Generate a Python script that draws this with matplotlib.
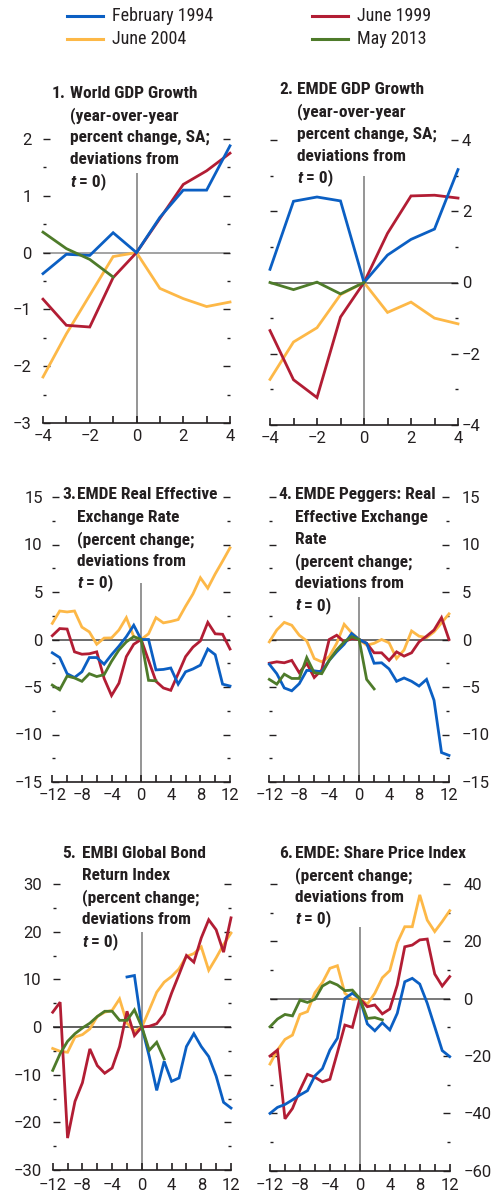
import matplotlib
matplotlib.use("Agg")
import matplotlib.pyplot as plt
from matplotlib import font_manager as fm
from matplotlib.lines import Line2D
import numpy as np

# ---------------- data ----------------
quarters = [-4, -3, -2, -1, 0, 1, 2, 3, 4]
months = list(range(-12, 13))

series_names = ["February 1994", "June 1999", "June 2004", "May 2013"]

p1_feb94 = [-0.37, -0.03, -0.05, 0.35, 0, 0.62, 1.1, 1.1, 1.88]
p1_jun99 = [-0.82, -1.28, -1.31, -0.44, 0, 0.6, 1.2, 1.44, 1.75]
p1_jun04 = [-2.19, -1.43, -0.75, -0.07, 0, -0.63, -0.81, -0.95, -0.87]
p1_may13 = [0.36, 0.07, -0.12, -0.43]

p2_feb94 = [0.37, 2.28, 2.4, 2.29, 0, 0.77, 1.21, 1.5, 3.17]
p2_jun99 = [-1.35, -2.73, -3.23, -0.97, 0, 1.38, 2.43, 2.45, 2.37]
p2_jun04 = [-2.72, -1.67, -1.27, -0.34, 0, -0.84, -0.55, -1.0, -1.16]
p2_may13 = [0, -0.2, 0.01, -0.32, 0]

p3_feb94 = [-1.4, -1.9, -3.6, -4.0, -3.4, -1.9, -1.9, -2.6, -1.6, -0.7, 0.3, 1.5, 0,
            0.0, -3.2, -3.15, -3.0, -4.7, -3.4, -3.1, -2.7, -1.0, -1.6, -4.7, -4.9]
p3_jun99 = [0.4, 1.15, 1.1, -1.3, -1.55, -1.5, -1.3, -4.1, -5.9, -4.6, -1.8, -0.5, 0,
            -2.2, -4.4, -5.1, -5.35, -3.6, -1.8, -0.8, -0.15, 1.8, 0.6, 0.55, -1.0]
p3_jun04 = [1.7, 3.0, 2.9, 3.0, 1.3, 0.8, -0.5, 0.15, 0.17, 1.0, 2.3, 0.3, 0,
            0.6, 2.3, 1.75, 1.9, 2.1, 3.5, 4.8, 6.5, 5.4, 6.9, 8.25, 9.65]
p3_may13 = [-4.8, -5.3, -3.85, -4.05, -4.4, -3.6, -3.9, -3.7, -2.3, -1.1, -0.25, 0.3, 0,
            -4.3, -4.35]

p4_feb94 = [-2.6, -3.6, -5.1, -5.4, -4.65, -3.25, -3.3, -3.4, -2.2, -1.3, -0.5, 0.63, 0,
            -0.4, -2.5, -2.45, -3.1, -4.4, -4.05, -4.4, -4.9, -4.2, -6.4, -11.9, -12.2]
p4_jun99 = [-2.5, -2.35, -2.45, -2.2, -3.5, -2.5, -4.0, -3.2, 0, 0.45, -0.25, 0.1, 0,
            -0.4, -1.4, -1.4, -2.2, -1.3, -1.75, -1.4, -0.25, 0.35, 1.0, 2.3, 0]
p4_jun04 = [-0.25, 1.0, 1.8, 1.5, 0.45, -0.15, -2.0, -2.35, -1.8, -0.4, 1.6, 0.7, 0,
            -0.6, -0.4, 0, -0.35, -2.0, -1.1, 0.9, 0.35, 0.2, 0.8, 1.75, 2.7]
p4_may13 = [-4.2, -4.7, -3.65, -4.1, -4.1, -1.9, -3.5, -3.6, -2.2, -1.1, -0.25, 0.3, 0,
            -4.2, -5.2]

p5_feb94 = [10.5, 10.8, 0, -6.2, -13.3, -7.2, -11.4, -10.7, -4.1, -1.4, -4.1, -6.2,
            -10.3, -15.8, -17.0]          # starts at month -2
p5_jun99 = [3.1, 5.2, -23.3, -15.6, -11.7, -4.6, -8.1, -9.7, -8.6, -4.1, 3.3, -1.8, 0,
            0.15, 0.7, 2.7, 7.1, 11.0, 15.0, 13.6, 18.7, 22.5, 20.4, 15.7, 22.9]
p5_jun04 = [-4.5, -5.1, -5.3, -2.1, -1.6, -0.4, 2.2, 3.1, 3.5, 5.9, 0.8, -0.9, 0,
            3.6, 7.3, 9.4, 10.6, 12.2, 14.8, 15.4, 16.8, 11.9, 14.5, 17.3, 19.7]
p5_may13 = [-9.1, -5.6, -3.0, -1.4, -0.2, 0.8, 2.2, 3.3, 3.3, 1.4, 1.4, 3.6, 0,
            -4.9, -3.2, -6.7]

p6_feb94 = [-40, -37.9, -36.9, -35.3, -33.6, -32.1, -26.9, -24.4, -17.9, -13.8, 0.1, 1.9, 0,
            -8.8, -11.2, -8.4, -10.9, -5.1, 5.9, 7.1, 5.1, -1.6, -9.8, -18.1, -20.2]
p6_jun99 = [-20, -17.9, -41.9, -38.3, -31.9, -26.4, -27.4, -29, -28.1, -18.8, -9.2, -10.0, 0,
            -2.8, -2.2, -5.3, -3.6, 4.8, 18.1, 18.7, 20.5, 20.8, 8.6, 4.4, 7.7]
p6_jun04 = [-22.8, -17.9, -14.2, -12.7, -5.5, -4.5, 2.1, 5.6, 10.6, 11.5, 1.9, -0.2, 0,
            -1.9, 1.9, 7.3, 9.8, 19.5, 25.1, 25.1, 36.2, 27.4, 23.4, 26.9, 30.7]
p6_may13 = [-9.8, -7.1, -5.5, -6.0, -0.5, -1.3, -0.2, 4.4, 5.9, 4.8, 2.8, 3.0, 0,
            -6.9, -6.6, -7.4]

# ---------------- style ----------------
COLORS = {"February 1994": "#0B5FC3", "June 1999": "#B21D34",
          "June 2004": "#FDB847", "May 2013": "#4E7B2A"}

names = {f.name for f in fm.fontManager.ttflist}
def pick(cands):
    for c in cands:
        if c in names:
            return c
    return "DejaVu Sans"
COND = pick(["Roboto Condensed", "Liberation Sans Narrow", "Arial Narrow", "Roboto"])
REG = pick(["Roboto", "Liberation Sans", "DejaVu Sans"])
plt.rcParams["font.family"] = [COND, "DejaVu Sans"]

TXT = "#231F20"
W, H = 491, 1201
def fx(p): return p / W
def fy(p): return 1 - p / H

fig = plt.figure(figsize=(W / 100, H / 100), dpi=100)

panels = [
    dict(rect=(43, 139, 230, 423), x=quarters, ylim=(-3, 2), major=1, minor=0.5,
         xmaj=2, xmin=1, side="left", pad=8.3, xpad=4.2, vtop=1.4, hcol="#8A8A8A",
         data={"February 1994": (quarters, p1_feb94), "June 1999": (quarters, p1_jun99),
               "June 2004": (quarters, p1_jun04), "May 2013": (quarters[:4], p1_may13)},
         num=("1.", 52), tx=70, ty=93.3,
         lines=["World GDP Growth", "(year-over-year", "percent change, SA;", "deviations from"]),
    dict(rect=(270, 140, 458, 425), x=quarters, ylim=(-4, 4), major=2, minor=1,
         xmaj=2, xmin=1, side="right", pad=2.9, xpad=4.2, vtop=3.0, hcol="#555555",
         data={"February 1994": (quarters, p2_feb94), "June 1999": (quarters, p2_jun99),
               "June 2004": (quarters, p2_jun04), "May 2013": (quarters[:5], p2_may13)},
         num=("2.", 279), tx=297, ty=89.5,
         lines=["EMDE GDP Growth", "(year-over-year", "percent change, SA;", "deviations from"]),
    dict(rect=(52.3, 497, 230, 782), x=months, ylim=(-15, 15), major=5, minor=2.5,
         xmaj=4, xmin=2, side="left", pad=6.9, xpad=4.5, vtop=5.9, hcol="#444444",
         data={"February 1994": (months, p3_feb94), "June 1999": (months, p3_jun99),
               "June 2004": (months, p3_jun04), "May 2013": (months[:15], p3_may13)},
         num=("3.", 62), tx=77, ty=495,
         lines=["EMDE Real Effective", "Exchange Rate", "(percent change;", "deviations from"]),
    dict(rect=(269.3, 497, 449, 782), x=months, ylim=(-15, 15), major=5, minor=2.5,
         xmaj=4, xmin=2, side="right", pad=9.1, xpad=4.5, vtop=4.5, hcol="#444444",
         data={"February 1994": (months, p4_feb94), "June 1999": (months, p4_jun99),
               "June 2004": (months, p4_jun04), "May 2013": (months[:15], p4_may13)},
         num=("4.", 278), tx=295, ty=495,
         lines=["EMDE Peggers: Real", "Effective Exchange", "Rate", "(percent change;",
                "deviations from"]),
    dict(rect=(52.7, 884, 231, 1170), x=months, ylim=(-30, 30), major=10, minor=5,
         xmaj=4, xmin=2, side="left", pad=7.9, xpad=5.5, vtop=20, hcol="#333333",
         data={"February 1994": (months[10:], p5_feb94), "June 1999": (months, p5_jun99),
               "June 2004": (months, p5_jun04), "May 2013": (months[:16], p5_may13)},
         num=("5.", 62), tx=82, ty=853.3,
         lines=["EMBI Global Bond", "Return Index", "(percent change;", "deviations from"]),
    dict(rect=(270, 884, 449.7, 1170.7), x=months, ylim=(-60, 40), major=20, minor=10,
         xmaj=4, xmin=2, side="right", pad=9.8, xpad=5.5, vtop=25, hcol="#555555",
         data={"February 1994": (months, p6_feb94), "June 1999": (months, p6_jun99),
               "June 2004": (months, p6_jun04), "May 2013": (months[:16], p6_may13)},
         num=("6.", 279), tx=295, ty=853.3,
         lines=["EMDE: Share Price Index", "(percent change;", "deviations from"]),
]

TICK_FS = 12
TITLE_FS = 12.5
LSTEP = 22.2
order = ["June 2004", "June 1999", "February 1994", "May 2013"]

for P in panels:
    l, t, r, b = P["rect"]
    ax = fig.add_axes([fx(l), fy(b), fx(r) - fx(l), (b - t) / H])
    xs = P["x"]
    ax.set_xlim(xs[0], xs[-1])
    ax.set_ylim(*P["ylim"])
    ax.axhline(0, color=P["hcol"], lw=1.1, zorder=1)
    ax.vlines(0, P["ylim"][0], P["vtop"], color="#8C8C8C", lw=1.3, zorder=1)
    for name in order:
        xx, yy = P["data"][name]
        ax.plot(xx, yy, color=COLORS[name], lw=2.0, zorder=3, solid_joinstyle="miter",
                clip_on=False)
    for s in ["top", "left", "right"]:
        ax.spines[s].set_visible(False)
    ax.spines["bottom"].set_color("#231F20")
    ax.spines["bottom"].set_linewidth(1.2)
    ax.patch.set_alpha(0)
    xmaj = np.arange(xs[0], xs[-1] + 0.1, P["xmaj"])
    ax.set_xticks(xmaj)
    ax.set_xticks(np.arange(xs[0], xs[-1] + 0.1, P["xmin"]), minor=True)
    ax.set_xticklabels([f"{int(v)}".replace("-", "\u2212") for v in xmaj],
                       fontfamily=[REG, "DejaVu Sans"])
    y0, y1 = P["ylim"]
    ymaj = np.arange(y0, y1 + 0.01, P["major"])
    ax.set_yticks(ymaj)
    ax.set_yticks(np.arange(y0, y1 + 0.01, P["minor"]), minor=True)
    ax.set_yticklabels([f"{int(v)}".replace("-", "\u2212") for v in ymaj],
                       fontfamily=[REG, "DejaVu Sans"])
    ax.tick_params(axis="x", which="both", direction="in", length=5, width=1.2,
                   color="#231F20", top=False, labelsize=TICK_FS, pad=P["xpad"],
                   labelcolor=TXT)
    ax.tick_params(axis="y", which="major", direction="in", length=5, width=1.0,
                   color="#231F20", left=True, right=True,
                   labelleft=(P["side"] == "left"), labelright=(P["side"] == "right"),
                   labelsize=TICK_FS, pad=P["pad"], labelcolor=TXT)
    ax.tick_params(axis="y", which="minor", direction="in", length=2.2, width=1.0,
                   color="#231F20", left=True, right=True)

    # title block (hanging indent)
    fig.text(fx(P["num"][1]), fy(P["ty"]), P["num"][0], fontsize=TITLE_FS,
             fontweight="bold", color=TXT, va="center", ha="left")
    for i, line in enumerate(P["lines"]):
        fig.text(fx(P["tx"]), fy(P["ty"] + i * LSTEP), line, fontsize=TITLE_FS,
                 fontweight="bold", color=TXT, va="center", ha="left")
    yl = P["ty"] + len(P["lines"]) * LSTEP
    tt = fig.text(fx(P["tx"]), fy(yl), "t", fontsize=TITLE_FS, fontweight="bold",
                  fontstyle="italic", color=TXT, va="center", ha="left")
    ax.annotate(" = 0)", xy=(1, 0), xycoords=tt, xytext=(0, 0),
                textcoords="offset points", fontsize=TITLE_FS, fontweight="bold",
                color=TXT, va="bottom", ha="left", annotation_clip=False)

# legend (manual placement)
leg_items = [("February 1994", 67, 15.7), ("June 1999", 312, 15.7),
             ("June 2004", 67, 39), ("May 2013", 312, 39)]
for name, x0, y0 in leg_items:
    fig.add_artist(Line2D([fx(x0), fx(x0 + 36)], [fy(y0), fy(y0)],
                          transform=fig.transFigure, color=COLORS[name], lw=2.2))
    fig.text(fx(x0 + 45), fy(y0), name, fontsize=13, color=TXT, va="center", ha="left")

fig.savefig("out.png", dpi=100)
